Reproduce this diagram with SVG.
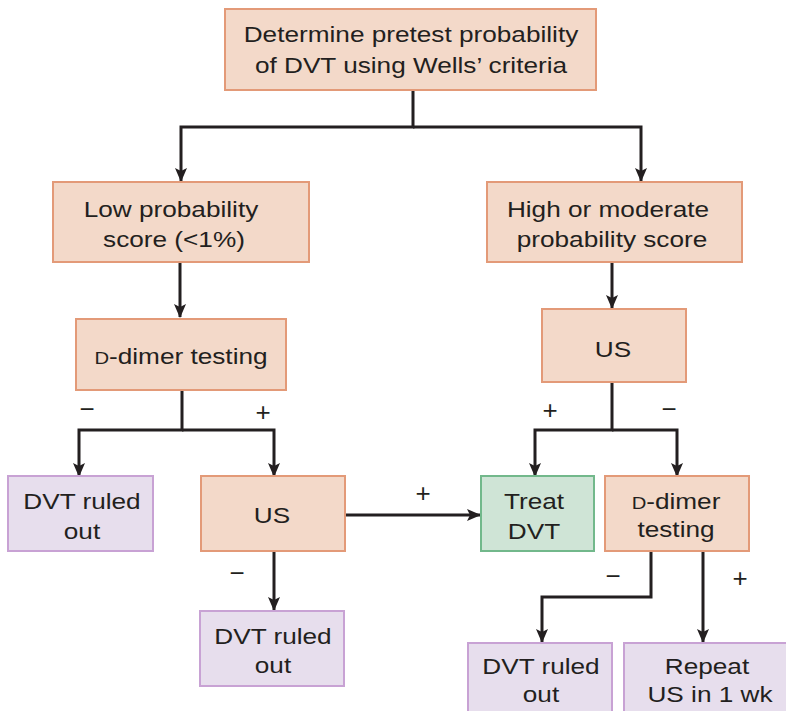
<svg xmlns="http://www.w3.org/2000/svg" width="786" height="711" viewBox="0 0 786 711">
<style>
.o{fill:#f3d9c9;stroke:#e39a78;stroke-width:2}
.p{fill:#e7deed;stroke:#c8a2d4;stroke-width:2}
.g{fill:#cfe4d6;stroke:#72b88b;stroke-width:2}
text{font-family:"Liberation Sans",Arial,sans-serif;font-size:22px;fill:#231f20;text-anchor:middle}
.sc{font-size:17px}
.s{font-size:26px}
.c{fill:none;stroke:#231f20;stroke-width:3}
</style>
<defs>
<marker id="ah" markerUnits="userSpaceOnUse" viewBox="0 0 14 12" markerWidth="14" markerHeight="12" refX="13" refY="6" orient="auto">
<path d="M0,0 L14,6 L0,12 L3,6 z" fill="#231f20"/>
</marker>
</defs>
<rect width="786" height="711" fill="#ffffff"/>
<g id="connectors">
<path class="c" d="M413,90 V127 H181 V181" marker-end="url(#ah)"/>
<path class="c" d="M413,127 H641 V181" marker-end="url(#ah)"/>
<path class="c" d="M180,262 V317" marker-end="url(#ah)"/>
<path class="c" d="M182,390 V430 H79 V476" marker-end="url(#ah)"/>
<path class="c" d="M182,430 H274 V476" marker-end="url(#ah)"/>
<path class="c" d="M612,262 V308" marker-end="url(#ah)"/>
<path class="c" d="M612,382 V430 H535 V476" marker-end="url(#ah)"/>
<path class="c" d="M612,430 H677 V476" marker-end="url(#ah)"/>
<path class="c" d="M345,515 H480" marker-end="url(#ah)"/>
<path class="c" d="M274,551 V610" marker-end="url(#ah)"/>
<path class="c" d="M651,551 V597 H542 V642" marker-end="url(#ah)"/>
<path class="c" d="M703,551 V642" marker-end="url(#ah)"/>
<text class="s" x="87" y="418">−</text>
<text class="s" x="263" y="421">+</text>
<text class="s" x="550" y="419">+</text>
<text class="s" x="669" y="418">−</text>
<text class="s" x="423" y="502">+</text>
<text class="s" x="237" y="582">−</text>
<text class="s" x="613" y="585">−</text>
<text class="s" x="740" y="587">+</text>
</g>
<g id="start">
<rect class="o" x="225" y="9" width="371" height="81"/>
<text transform="translate(411,42) scale(1.19,1)">Determine pretest probability</text>
<text transform="translate(411,73) scale(1.19,1)">of DVT using Wells’ criteria</text>
</g>
<g id="low">
<rect class="o" x="53" y="182" width="256" height="80"/>
<text transform="translate(171,217) scale(1.19,1)">Low probability</text>
<text transform="translate(174,247) scale(1.19,1)">score (&lt;1%)</text>
</g>
<g id="high">
<rect class="o" x="487" y="182" width="255" height="80"/>
<text transform="translate(608,217) scale(1.19,1)">High or moderate</text>
<text transform="translate(612,247) scale(1.19,1)">probability score</text>
</g>
<g id="ddimer1">
<rect class="o" x="76" y="319" width="210" height="71"/>
<text transform="translate(181,364) scale(1.19,1)"><tspan class="sc">D</tspan>-dimer testing</text>
</g>
<g id="us1">
<rect class="o" x="542" y="309" width="144" height="73"/>
<text transform="translate(613,357) scale(1.19,1)">US</text>
</g>
<g id="ruledout1">
<rect class="p" x="8" y="476" width="145" height="75"/>
<text transform="translate(82,509) scale(1.19,1)">DVT ruled</text>
<text transform="translate(82,539) scale(1.19,1)">out</text>
</g>
<g id="us2">
<rect class="o" x="201" y="476" width="144" height="75"/>
<text transform="translate(272,523) scale(1.19,1)">US</text>
</g>
<g id="treat">
<rect class="g" x="481" y="476" width="113" height="75"/>
<text transform="translate(534,509) scale(1.19,1)">Treat</text>
<text transform="translate(534,539) scale(1.19,1)">DVT</text>
</g>
<g id="ddimer2">
<rect class="o" x="605" y="476" width="144" height="75"/>
<text transform="translate(676,509) scale(1.19,1)"><tspan class="sc">D</tspan>-dimer</text>
<text transform="translate(676,537) scale(1.19,1)">testing</text>
</g>
<g id="ruledout2">
<rect class="p" x="200" y="611" width="144" height="75"/>
<text transform="translate(273,644) scale(1.19,1)">DVT ruled</text>
<text transform="translate(273,673) scale(1.19,1)">out</text>
</g>
<g id="ruledout3">
<rect class="p" x="468" y="643" width="144" height="80"/>
<text transform="translate(541,674) scale(1.19,1)">DVT ruled</text>
<text transform="translate(541,702) scale(1.19,1)">out</text>
</g>
<g id="repeat">
<rect class="p" x="624" y="643" width="172" height="80"/>
<text transform="translate(707,674) scale(1.19,1)">Repeat</text>
<text transform="translate(710,702) scale(1.19,1)">US in 1 wk</text>
</g>
</svg>
